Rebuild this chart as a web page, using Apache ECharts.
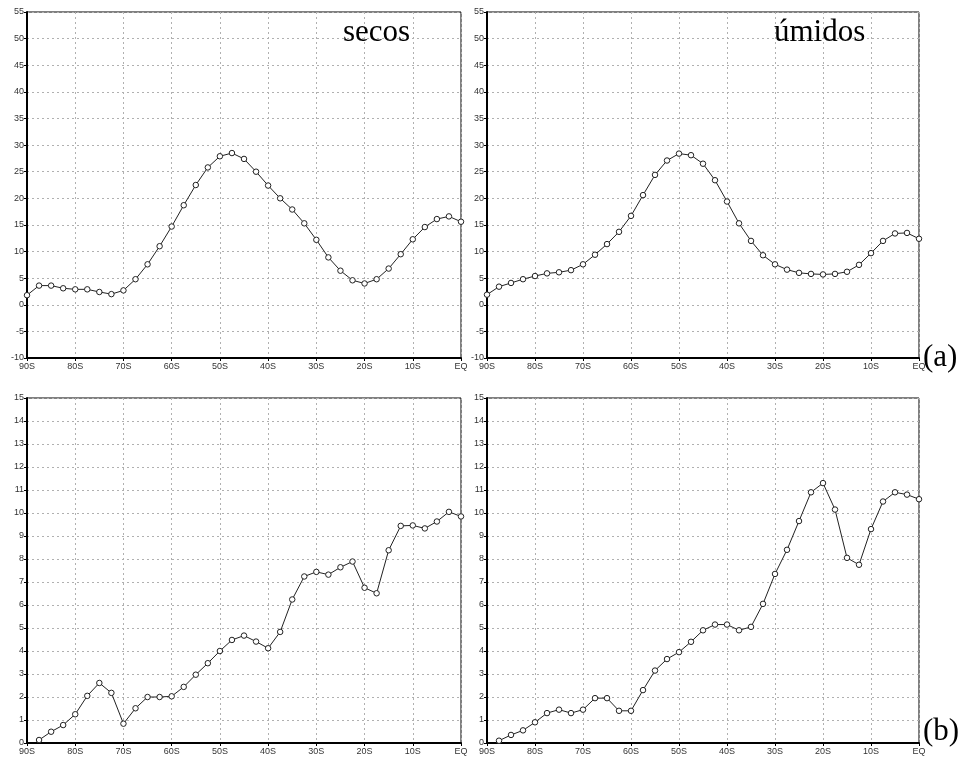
<!DOCTYPE html>
<html>
<head>
<meta charset="utf-8">
<script src="https://cdn.jsdelivr.net/npm/echarts@6/dist/echarts.min.js"></script>
<style>html,body{margin:0;padding:0;background:#fff}#c{width:960px;height:760px}</style>
</head>
<body>
<div id="c"></div>
<script>
// Latitudes (negative = south), 2.5° spacing
const lats = [-90,-87.5,-85,-82.5,-80,-77.5,-75,-72.5,-70,-67.5,-65,-62.5,-60,-57.5,-55,-52.5,-50,-47.5,-45,-42.5,-40,-37.5,-35,-32.5,-30,-27.5,-25,-22.5,-20,-17.5,-15,-12.5,-10,-7.5,-5,-2.5,0];
const xTicks = ['90S','80S','70S','60S','50S','40S','30S','20S','10S','EQ'];

// (a) secos
const aSecos = [1.8,3.6,3.6,3.1,2.9,2.9,2.4,2.0,2.7,4.8,7.6,11.0,14.7,18.7,22.5,25.8,27.9,28.5,27.4,25.0,22.4,20.0,17.9,15.3,12.2,8.9,6.4,4.6,4.0,4.8,6.8,9.5,12.3,14.6,16.1,16.6,15.6];
// (a) úmidos
const aUmidos = [1.9,3.4,4.1,4.8,5.4,5.9,6.1,6.5,7.6,9.4,11.4,13.7,16.7,20.6,24.4,27.1,28.4,28.1,26.5,23.4,19.4,15.3,12.0,9.3,7.6,6.6,6.0,5.8,5.7,5.8,6.2,7.5,9.7,12.0,13.4,13.5,12.4];
// (b) secos
const bSecos = [null,0.13,0.49,0.78,1.25,2.05,2.61,2.18,0.84,1.51,2.0,2.0,2.03,2.44,2.97,3.47,4.0,4.48,4.67,4.41,4.12,4.83,6.24,7.24,7.44,7.32,7.64,7.89,6.75,6.51,8.38,9.44,9.46,9.33,9.63,10.05,9.85];
// (b) úmidos
const bUmidos = [null,0.1,0.35,0.55,0.9,1.3,1.45,1.3,1.45,1.95,1.95,1.4,1.4,2.3,3.15,3.65,3.95,4.4,4.9,5.15,5.15,4.9,5.05,6.05,7.35,8.4,9.65,10.9,11.3,10.15,8.05,7.75,9.3,10.5,10.9,10.8,10.6];

const panelLabels = ['secos','úmidos'];
const rowLabels = ['(a)','(b)'];

const chart = echarts.init(document.getElementById('c'), null, {renderer:'canvas'});

const grids = [
  {left:27, top:12, width:434, height:346},
  {left:487, top:12, width:432, height:346},
  {left:27, top:398, width:434, height:345},
  {left:487, top:398, width:432, height:345}
].map(g => Object.assign({show:true, borderColor:'#000', borderWidth:1, backgroundColor:'#fff'}, g));

const fmtLat = v => xTicks[Math.round((v + 90) / 10)];
const labelFont = {fontFamily:'Liberation Sans, Arial, sans-serif', fontSize:9, color:'#333'};
const splitLine = {show:true, lineStyle:{color:'#b0b0b0', type:[2,3], width:1}};

const xAxes = grids.map((g,i) => ({
  type:'value', gridIndex:i, min:-90, max:0, interval:10,
  axisLine:{show:true, onZero:false, lineStyle:{color:'#000', width:2}},
  axisTick:{show:true, length:3, lineStyle:{color:'#000'}},
  axisLabel:Object.assign({formatter:fmtLat, margin:4}, labelFont),
  splitLine
}));
const yAxes = grids.map((g,i) => {
  const top = i < 2;
  return {
    type:'value', gridIndex:i,
    min: top ? -10 : 0, max: top ? 55 : 15, interval: top ? 5 : 1,
    axisLine:{show:true, onZero:false, lineStyle:{color:'#000', width:2}},
    axisTick:{show:true, length:3, lineStyle:{color:'#000'}},
    axisLabel:Object.assign({margin:3}, labelFont),
    splitLine
  };
});

const allData = [aSecos, aUmidos, bSecos, bUmidos];
const series = allData.map((vals,i) => ({
  type:'line', xAxisIndex:i, yAxisIndex:i,
  data: lats.map((la,k) => [la, vals[k]]),
  symbol:'circle', symbolSize:5.5, showSymbol:true,
  connectNulls:false,
  itemStyle:{color:'#fff', borderColor:'#222', borderWidth:1},
  lineStyle:{color:'#222', width:1},
  animation:false, clip:true
}));

const textStyle = {fontFamily:'Liberation Serif, Times New Roman, serif', fontSize:31, fill:'#000'};
chart.setOption({
  animation:false,
  grid:grids, xAxis:xAxes, yAxis:yAxes, series,
  graphic:[
    {type:'text', left:343, top:17, z:100, style:Object.assign({text:panelLabels[0]}, textStyle)},
    {type:'text', left:774, top:17, z:100, style:Object.assign({text:panelLabels[1]}, textStyle)},
    {type:'text', left:923, top:342, z:100, style:Object.assign({text:rowLabels[0]}, textStyle)},
    {type:'text', left:923, top:716, z:100, style:Object.assign({text:rowLabels[1]}, textStyle)}
  ]
});
</script>
</body>
</html>
